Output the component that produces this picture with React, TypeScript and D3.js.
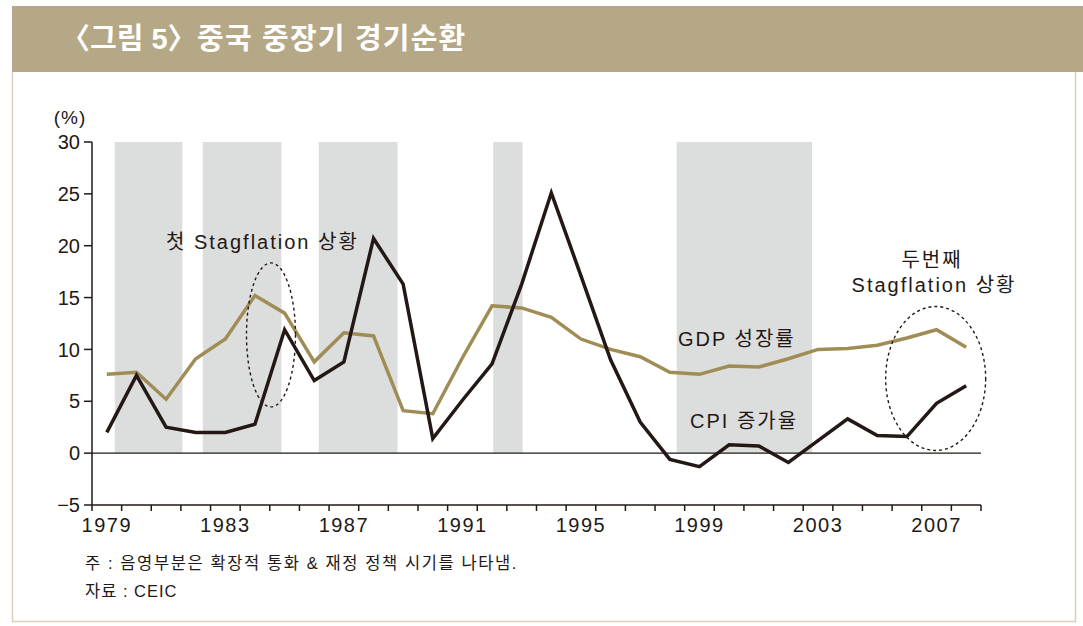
import * as d3 from "d3";

const years = d3.range(1979, 2009);
const gdpGrowth = [
  7.6, 7.8, 5.2, 9.1, 11.0, 15.2, 13.5, 8.8, 11.6, 11.3, 4.1, 3.8, 9.2, 14.2, 14.0,
  13.1, 11.0, 10.0, 9.3, 7.8, 7.6, 8.4, 8.3, 9.1, 10.0, 10.1, 10.4, 11.1, 11.9, 10.2,
];
const cpiGrowth = [
  2.0, 7.5, 2.5, 2.0, 2.0, 2.8, 11.9, 7.0, 8.8, 20.7, 16.3, 1.4, 5.1, 8.6, 16.3,
  25.1, 17.1, 9.0, 3.0, -0.6, -1.3, 0.8, 0.7, -0.9, 1.2, 3.3, 1.7, 1.6, 4.8, 6.5,
];
// expansionary monetary & fiscal policy periods (shaded)
const shadedPeriods = [
  [1979.77, 1982.05],
  [1982.74, 1985.39],
  [1986.65, 1989.31],
  [1992.54, 1993.53],
  [1998.73, 2003.3],
];
const yTicks = [-5, 0, 5, 10, 15, 20, 25, 30];
const xTickLabels = [1979, 1983, 1987, 1991, 1995, 1999, 2003, 2007];

const W = 1083;
const H = 626;
const font = "'Liberation Sans', 'Noto Sans CJK KR', sans-serif";
const ink = "#231815";
const gold = "#9f8d55";

const App = () => {
  const x = d3.scaleLinear().domain([1979, 2009]).range([92, 981]);
  const y = d3.scaleLinear().domain([-5, 30]).range([505, 142]);

  // points sit in the middle of each year's slot
  const line = d3
    .line<number>()
    .x((_, i) => x(years[i] + 0.5))
    .y((d) => y(d));

  return (
    <div style={{ position: "absolute", left: 0, top: 0 }}>
      <svg width={W} height={H} style={{ display: "block", fontFamily: font }}>
        <rect width={W} height={H} fill="#ffffff" />

        {/* Title bar */}
        <rect x={12} y={6} width={W - 12} height={66} fill="#b5a886" />
        <g fontSize={29} fontWeight="bold" fill="#ffffff">
          <text x={61} y={49}>〈그림 5〉</text>
          <text x={197} y={49} letterSpacing={1.2}>중국 중장기 경기순환</text>
        </g>

        {/* Panel border */}
        <path
          d={`M12.5,72 V621.5 H1075.5 V72`}
          fill="none"
          stroke="#d9d0b9"
          strokeWidth={1.5}
        />

        {/* Shaded periods */}
        {shadedPeriods.map(([a, b]) => (
          <rect
            key={a}
            x={x(a)}
            y={y(30)}
            width={x(b) - x(a)}
            height={y(0) - y(30)}
            fill="#dcdedd"
          />
        ))}

        {/* Y axis */}
        <text x={70} y={124} fontSize={19} textAnchor="middle" fill={ink} letterSpacing={1}>
          (%)
        </text>
        <line x1={x(1979)} x2={x(1979)} y1={y(30)} y2={y(-5)} stroke={ink} strokeWidth={1.5} />
        {yTicks.map((t) => (
          <g key={t}>
            <line x1={x(1979) - 8} x2={x(1979)} y1={y(t)} y2={y(t)} stroke={ink} strokeWidth={1.5} />
            <text
              x={80}
              y={y(t)}
              dy="0.36em"
              fontSize={20}
              textAnchor="end"
              fill={ink}
            >
              {t < 0 ? `−${Math.abs(t)}` : t}
            </text>
          </g>
        ))}

        {/* Zero line and x axis */}
        <line x1={x(1979)} x2={x(2009)} y1={y(0)} y2={y(0)} stroke={ink} strokeWidth={1.3} />
        <line x1={x(1979)} x2={x(2009)} y1={y(-5)} y2={y(-5)} stroke={ink} strokeWidth={1.5} />
        {d3.range(1979, 2010).map((yr) => (
          <line
            key={yr}
            x1={x(yr)}
            x2={x(yr)}
            y1={y(-5)}
            y2={y(-5) + 6}
            stroke={ink}
            strokeWidth={1.5}
          />
        ))}
        {xTickLabels.map((yr) => (
          <text
            key={yr}
            x={x(yr + 0.5)}
            y={532}
            fontSize={20}
            letterSpacing={1.5}
            textAnchor="middle"
            fill={ink}
          >
            {yr}
          </text>
        ))}

        {/* Series */}
        <path d={line(gdpGrowth) ?? ""} fill="none" stroke={gold} strokeWidth={3.5} />
        <path d={line(cpiGrowth) ?? ""} fill="none" stroke={ink} strokeWidth={3.5} />

        {/* Stagflation ellipses */}
        <ellipse
          cx={x(1985.04)}
          cy={y(11.4)}
          rx={24.5}
          ry={72}
          fill="none"
          stroke={ink}
          strokeWidth={1.4}
          strokeDasharray="3 3"
        />
        <ellipse
          cx={x(2007.47)}
          cy={y(7.2)}
          rx={50}
          ry={72}
          fill="none"
          stroke={ink}
          strokeWidth={1.4}
          strokeDasharray="3 3"
        />

        {/* Annotations */}
        <g fontSize={20} fill={ink} letterSpacing={2}>
          <text x={166} y={249}>첫 Stagflation 상황</text>
          <text x={932} y={267} textAnchor="middle">두번째</text>
          <text x={934} y={292} textAnchor="middle">Stagflation 상황</text>
          <text x={678} y={346}>GDP 성장률</text>
          <text x={690} y={428}>CPI 증가율</text>
        </g>

        {/* Notes */}
        <g fontSize={16.5} fill={ink} letterSpacing={1.6}>
          <text x={85} y={569}>주 : 음영부분은 확장적 통화 &amp; 재정 정책 시기를 나타냄.</text>
          <text x={85} y={597} letterSpacing={1}>자료 : CEIC</text>
        </g>
      </svg>
    </div>
  );
};

export default App;
